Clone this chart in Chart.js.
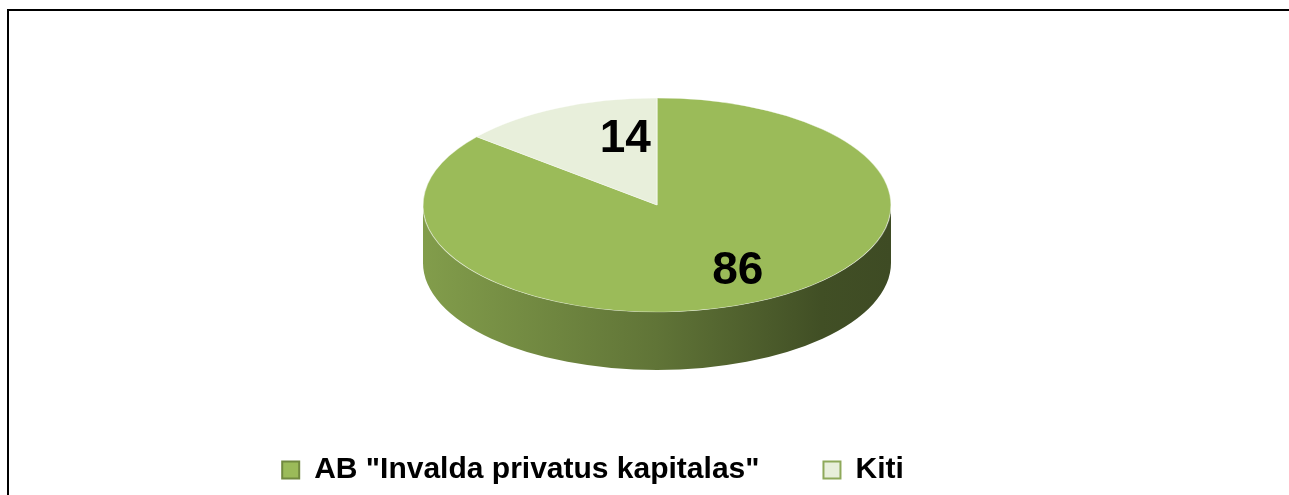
<!DOCTYPE html>
<html>
<head>
    <meta charset="UTF-8">
    <script src="https://cdn.jsdelivr.net/npm/chart.js@4.4.1/dist/chart.umd.min.js"></script>
    <style>
        html, body { margin: 0; padding: 0; background: #fff; overflow: hidden; }
        .frame { position: absolute; left: 7px; top: 9px; width: 1400px; height: 600px; border: 2px solid #000; }
        .wrap  { position: absolute; left: 0; top: 0; width: 1289px; height: 495px; }
    </style>
    <title>Akcininkai</title>
</head>
<body>
    <div class="frame"></div>
    <div class="wrap"><canvas id="pie"></canvas></div>

    <script>
        // duomenys
        const labels = ['AB "Invalda privatus kapitalas"', 'Kiti'];
        const values = [86, 14];
        const colors = ['#9BBB59', '#E8EFDB'];
        const borders = ['#71893F', '#8EA95A'];

        function shade(hex, f) {
            const n = parseInt(hex.slice(1), 16);
            const r = Math.round(((n >> 16) & 255) * f);
            const g = Math.round(((n >> 8) & 255) * f);
            const b = Math.round((n & 255) * f);
            return `rgb(${r},${g},${b})`;
        }

        // pseudo 3D: ellipse top + extruded front side
        const pie3d = {
            id: 'pie3d',
            beforeDatasetsDraw(chart, args, o) {
                const ctx = chart.ctx;
                const meta = chart.getDatasetMeta(0);
                const first = meta.data[0];
                const R = first.outerRadius;

                ctx.save();
                meta.data.forEach((arc, i) => {
                    const s = arc.startAngle, e = arc.endAngle;
                    const col = colors[i];
                    for (const off of [0, 2 * Math.PI]) {
                        const a0 = Math.max(s, off), a1 = Math.min(e, off + Math.PI);
                        if (a1 <= a0) continue;
                        const g = ctx.createLinearGradient(o.ex - o.rx, 0, o.ex + o.rx, 0);
                        g.addColorStop(0, shade(col, 0.84));
                        g.addColorStop(0.5, shade(col, 0.62));
                        g.addColorStop(0.85, shade(col, 0.42));
                        g.addColorStop(1, shade(col, 0.40));
                        ctx.beginPath();
                        ctx.ellipse(o.ex, o.ey, o.rx, o.ry, 0, a0, a1);
                        ctx.ellipse(o.ex, o.ey + o.depth, o.rx, o.ry, 0, a1, a0, true);
                        ctx.closePath();
                        ctx.fillStyle = g;
                        ctx.fill();
                    }
                });

                // squash the round pie into the ellipse
                ctx.translate(o.ex, o.ey);
                ctx.scale(o.rx / R, o.ry / R);
                ctx.translate(-first.x, -first.y);
            },
            afterDatasetsDraw(chart, args, o) {
                const ctx = chart.ctx;
                ctx.restore();
                const meta = chart.getDatasetMeta(0);
                ctx.save();
                ctx.font = 'bold 46px Arial, "Liberation Sans", sans-serif';
                ctx.fillStyle = '#000';
                ctx.textAlign = 'center';
                ctx.textBaseline = 'middle';
                meta.data.forEach((arc, i) => {
                    const mid = (arc.startAngle + arc.endAngle) / 2;
                    const nudge = o.nudge[i] || [0, 0];
                    const x = o.ex + Math.cos(mid) * o.rx * o.labelFrac + nudge[0];
                    const y = o.ey + Math.sin(mid) * o.ry * o.labelFrac + nudge[1];
                    ctx.fillText(String(values[i]), x, y);
                });
                ctx.restore();
            }
        };

        window.onload = () => {
            const ctx = document.getElementById('pie').getContext('2d');

            new Chart(ctx, {
                type: 'pie',
                data: {
                    labels: labels,
                    datasets: [{
                        data: values,
                        backgroundColor: colors,
                        borderColor: 'rgba(255,255,255,0.5)',
                        borderWidth: 1,
                        clip: false
                    }]
                },
                options: {
                    responsive: true,
                    maintainAspectRatio: false,
                    animation: false,
                    events: [],
                    layout: { padding: { left: 0, right: 103, top: 20, bottom: 0 } },
                    plugins: {
                        tooltip: { enabled: false },
                        legend: {
                            position: 'bottom',
                            labels: {
                                color: '#000',
                                font: { family: 'Arial, "Liberation Sans", sans-serif', size: 30, weight: 'bold' },
                                boxWidth: 17,
                                boxHeight: 17,
                                padding: 64,
                                generateLabels(chart) {
                                    const items = Chart.overrides.pie.plugins.legend.labels.generateLabels(chart);
                                    items.forEach((it, i) => {
                                        it.strokeStyle = borders[i];
                                        it.lineWidth = 2;
                                    });
                                    return items;
                                }
                            }
                        },
                        pie3d: {
                            ex: 657, ey: 205, rx: 234, ry: 107, depth: 58,
                            labelFrac: 0.72,
                            nudge: [[9, -3], [40, 4]]
                        }
                    }
                },
                plugins: [pie3d]
            });
        };
    </script>
</body>
</html>
